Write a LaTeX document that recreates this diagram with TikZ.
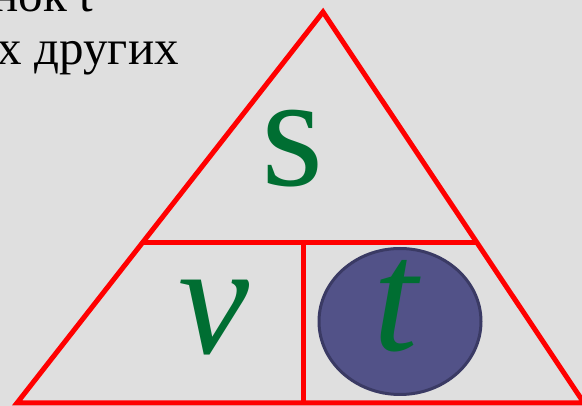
\documentclass[tikz,border=0pt]{standalone}
\usepackage{fontspec}
\setmainfont{Liberation Serif}
\definecolor{bg}{RGB}{223,223,223}
\definecolor{tri}{RGB}{255,0,0}
\definecolor{letter}{RGB}{0,110,50}
\definecolor{ovalfill}{RGB}{82,82,136}
\definecolor{ovaldraw}{RGB}{58,58,100}
\tikzset{
  redline/.style={draw=tri, line width=5pt},
  bigletter/.style={text=letter, inner sep=0pt, font=\fontsize{160}{160}\selectfont},
  toptext/.style={inner sep=0pt, font=\fontsize{49}{54}\selectfont, text=black},
}
\begin{document}
\begin{tikzpicture}[x=1pt, y=-1pt]
  \fill[bg] (0,0) rectangle (582,406);
  \useasboundingbox (0,0) rectangle (582,406);
  \clip (0,0) rectangle (582,406);
  % text fragments at the top left
  \node[toptext, anchor=base east] (l1) at (93,12) {нок t};
  \node[toptext, anchor=base east] (l2) at (179,65) {х других};
  % triangle corners and division points
  \coordinate (apex) at (323,12);
  \coordinate (bl) at (17,403);
  \coordinate (br) at (584,403);
  \coordinate (ml) at (142,243);
  \coordinate (mr) at (477,243);
  \coordinate (vt) at (303,243);
  \coordinate (vb) at (303,403);
  % ellipse behind t
  \draw[fill=ovalfill, draw=ovaldraw, line width=3pt] (400,321.5) ellipse [x radius=81, y radius=73];
  % triangle
  \draw[redline] (bl) -- (apex) -- (br) -- cycle;
  \draw[redline] (ml) -- (mr);
  \draw[redline] (vt) -- (vb);
  % letters
  \node[bigletter] (s) at (293,149) {s};
  \node[bigletter] (v) at (214,318) {\itshape v};
  \node[bigletter] (t) at (396,306) {\itshape t};
\end{tikzpicture}
\end{document}
